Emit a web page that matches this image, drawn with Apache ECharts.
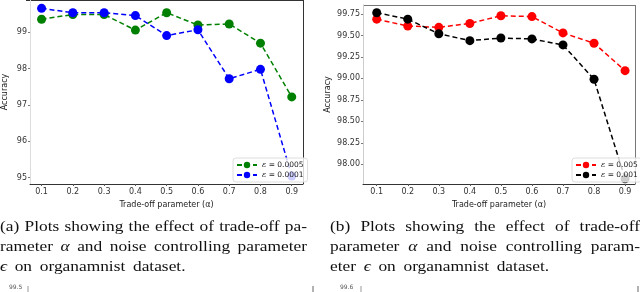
<!DOCTYPE html>
<html><head><meta charset="utf-8">
<script src="https://cdn.jsdelivr.net/npm/echarts@6/dist/echarts.min.js"></script>
<style>html,body{margin:0;padding:0;background:#fff}#c{width:640px;height:292px}</style>
</head><body><div id="c"></div>
<script>
const alphas = [0.1,0.2,0.3,0.4,0.5,0.6,0.7,0.8,0.9];
const accA_e0005 = [99.36,99.49,99.49,99.06,99.54,99.20,99.23,98.70,97.22];
const accA_e0001 = [99.66,99.54,99.54,99.46,98.91,99.07,97.72,97.98,95.04];
const accB_e005 = [99.69,99.61,99.595,99.64,99.73,99.72,99.53,99.41,99.09];
const accB_e001 = [99.765,99.69,99.52,99.44,99.47,99.46,99.39,98.99,97.83];
const yTicksA = [95,96,97,98,99];
const yTicksB = [98.00,98.25,98.50,98.75,99.00,99.25,99.50,99.75];
const namesA = ['ε = 0.0005','ε = 0.0001'];
const namesB = ['ε = 0.005','ε = 0.001'];
const xTitle = 'Trade-off parameter (α)';
const yTitle = 'Accuracy';
const captionA = [
  ['(a) Plots showing the effect of trade-off pa-', true],
  ['rameter α and noise controlling parameter', true],
  ['ϵ on organamnist dataset.', false]];
const captionB = [
  ['(b) Plots showing the effect of trade-off', true],
  ['parameter α and noise controlling param-', true],
  ['eter ϵ on organamnist dataset.', false]];

const chart = echarts.init(document.getElementById('c'));
const pair = arr => arr.map((v,i)=>[alphas[i], v]);
const tickFont = {fontFamily:'DejaVu Sans', fontSize:8, color:'#333'};

function xAx(idx){
  return {type:'value', gridIndex:idx, min: idx?0.0558:0.063, max: idx?0.932:0.936,
    name:xTitle, nameLocation:'middle', nameGap:17, nameTextStyle:{fontFamily:'DejaVu Sans', fontSize:8, color:'#222'},
    axisLine:{show:true, onZero:false, lineStyle:{color:'#333', width:1}},
    axisTick:{show:true, length:2, customValues:alphas, lineStyle:{color:'#555'}},
    axisLabel:Object.assign({customValues:alphas, margin:4, formatter:v=>v.toFixed(1)}, tickFont),
    splitLine:{show:false}};
}
function yAx(idx){
  const t = idx?yTicksB:yTicksA;
  return {type:'value', gridIndex:idx, min: idx?97.77:94.82, max: idx?99.855:99.89,
    name:yTitle, nameLocation:'middle', nameGap: idx?31:21, nameTextStyle:{fontFamily:'DejaVu Sans', fontSize:8, color:'#222'},
    axisLine:{show:true, onZero:false, lineStyle:{color: idx?'#ccc':'#ddd', width:1}},
    axisTick:{show:true, length:2, customValues:t, lineStyle:{color:'#777'}},
    axisLabel:Object.assign({customValues:t, margin:3, formatter:v=> idx? v.toFixed(2) : String(v)}, tickFont),
    splitLine:{show:false}};
}
function ser(name, data, color, idx){
  return {type:'line', name, xAxisIndex:idx, yAxisIndex:idx, data:pair(data),
    symbol:'circle', symbolSize:9, color,
    itemStyle:{color}, lineStyle:{color, width:1.5, type:[5,3]}, animation:false, z:2};
}
function legend(names, idx, left){
  return {data:names, orient:'vertical', left, top:158, itemWidth:20, itemHeight:8, itemGap:2,
    padding:[3,4,3,3], backgroundColor:'rgba(255,255,255,0.8)', borderColor:'#ddd', borderWidth:1, borderRadius:3,
    formatter: n => '{i|ε}' + n.slice(1),
    textStyle:{fontFamily:'DejaVu Sans', fontSize:7.5, color:'#222', rich:{i:{fontStyle:'italic', fontFamily:'DejaVu Serif', fontSize:8}}},
    z:10};
}

// caption graphics: words laid out and justified, horizontally stretched
const measureCtx = document.createElement('canvas').getContext('2d');
const capFont = 15.5, capFam = 'Liberation Serif', capScale = 1.12;
function wordFont(w){ return (/^[αϵ]$/.test(w)?'italic ':'') + capFont + 'px "' + capFam + '"'; }
function captionGraphics(lines, x0, x1, y0, lh){
  const out = [];
  const avail = (x1 - x0) / capScale;
  lines.forEach(([line, just], li) => {
    const words = line.split(' ');
    const widths = words.map(w => { measureCtx.font = wordFont(w); return measureCtx.measureText(w).width; });
    measureCtx.font = capFont + 'px "' + capFam + '"';
    const sp = measureCtx.measureText(' ').width + 3;
    const total = widths.reduce((a,b)=>a+b,0);
    const gap = just ? (avail - total)/(words.length-1) : sp;
    let x = 0;
    const children = [];
    words.forEach((w,i) => {
      children.push({type:'text', x:x, y:0, silent:true,
        style:{text:w, font: wordFont(w), fill:'#111', verticalAlign:'top'}});
      x += widths[i] + gap;
    });
    out.push({type:'group', x:x0, y:y0 + li*lh, scaleX:capScale, silent:true, children});
  });
  return out;
}

const graphics = [].concat(
  captionGraphics(captionA, 0, 307, 219, 20),
  captionGraphics(captionB, 330, 640, 219, 20),
  [
    {type:'text', left:9, top:284, silent:true, style:{text:'99.5', font:'6px "DejaVu Sans"', fill:'#555'}},
    {type:'line', silent:true, shape:{x1:28, y1:286, x2:28, y2:292}, style:{stroke:'#999', lineWidth:1}},
    {type:'line', silent:true, shape:{x1:313, y1:286, x2:313, y2:292}, style:{stroke:'#666', lineWidth:1}},
    {type:'text', left:340, top:284, silent:true, style:{text:'99.6', font:'6px "DejaVu Sans"', fill:'#555'}},
    {type:'line', silent:true, shape:{x1:361, y1:286, x2:361, y2:292}, style:{stroke:'#999', lineWidth:1}},
    {type:'line', silent:true, shape:{x1:638, y1:286, x2:638, y2:292}, style:{stroke:'#666', lineWidth:1}},
    {type:'line', silent:true, shape:{x1:26, y1:0.5, x2:303, y2:0.5}, style:{stroke:'#333', lineWidth:1}},
    {type:'line', silent:true, shape:{x1:303.5, y1:0, x2:303.5, y2:184}, style:{stroke:'#333', lineWidth:1}},
    {type:'line', silent:true, shape:{x1:363, y1:5.5, x2:635, y2:5.5}, style:{stroke:'#777', lineWidth:1}},
    {type:'line', silent:true, shape:{x1:635.5, y1:5, x2:635.5, y2:184}, style:{stroke:'#777', lineWidth:1}}
  ]);

chart.setOption({
  animation:false,
  grid:[{left:26, right:337, top:0, bottom:108}, {left:363, right:5, top:5, bottom:108}],
  xAxis:[xAx(0), xAx(1)],
  yAxis:[yAx(0), yAx(1)],
  legend:[legend(namesA,0,233), legend(namesB,1,572)],
  series:[ser(namesA[0],accA_e0005,'#008000',0), ser(namesA[1],accA_e0001,'#0000ff',0),
          ser(namesB[0],accB_e005,'#ff0000',1), ser(namesB[1],accB_e001,'#000000',1)],
  graphic:graphics
});
</script></body></html>
